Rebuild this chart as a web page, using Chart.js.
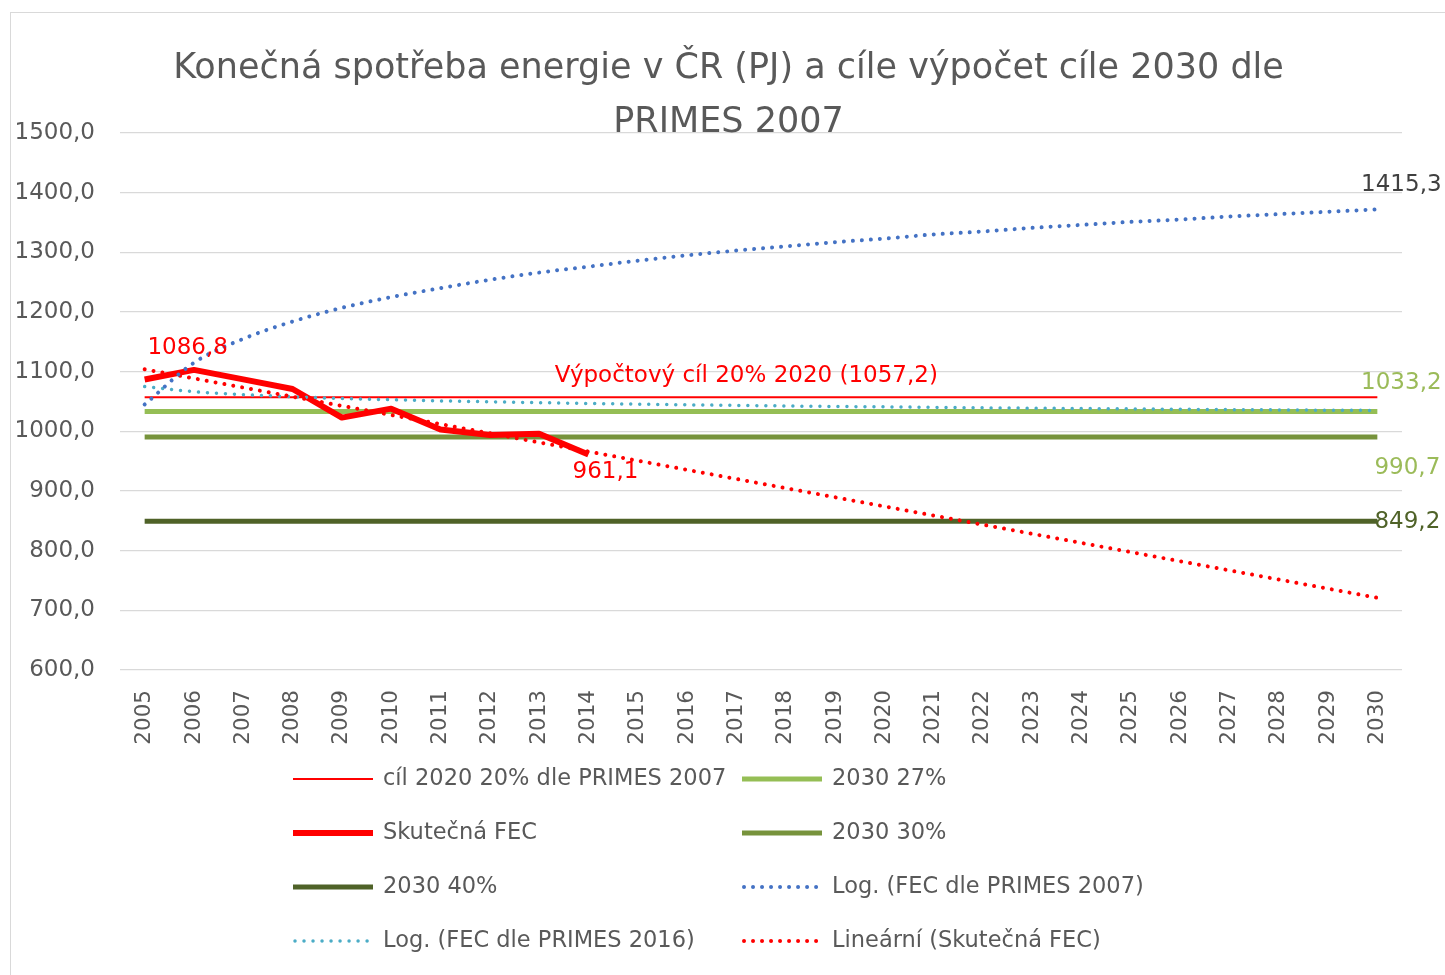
<!DOCTYPE html>
<html>
<head>
<meta charset="utf-8">
<script src="https://cdn.jsdelivr.net/npm/chart.js@4.4.1/dist/chart.umd.min.js"></script>
<style>
  html, body { margin: 0; padding: 0; background: #ffffff; }
  #wrap { position: absolute; left: 0; top: 0; width: 1445px; height: 975px; }
</style>
</head>
<body>
<div id="wrap"><canvas id="c" width="1445" height="975"></canvas></div>
<script>
// ---- data ----
const years = ['2005','2006','2007','2008','2009','2010','2011','2012','2013','2014','2015','2016','2017',
               '2018','2019','2020','2021','2022','2023','2024','2025','2026','2027','2028','2029','2030'];

const titleLines = ['Konečná spotřeba energie v ČR (PJ) a cíle výpočet cíle 2030 dle', 'PRIMES 2007'];

// actual final energy consumption (PJ), 2005–2014
const skutecnaFEC = [1086.8, 1103, 1087, 1071, 1023, 1038, 1003, 994, 996, 961.1,
                     null, null, null, null, null, null, null, null, null, null, null, null, null, null, null, null];

// horizontal target lines
const cil2020 = [1057.2, 1057.2, 1057.2, 1057.2, 1057.2, 1057.2, 1057.2, 1057.2, 1057.2, 1057.2, 1057.2, 1057.2, 1057.2,
                 1057.2, 1057.2, 1057.2, 1057.2, 1057.2, 1057.2, 1057.2, 1057.2, 1057.2, 1057.2, 1057.2, 1057.2, 1057.2];
const cil2030_27 = [1033.2, 1033.2, 1033.2, 1033.2, 1033.2, 1033.2, 1033.2, 1033.2, 1033.2, 1033.2, 1033.2, 1033.2, 1033.2,
                    1033.2, 1033.2, 1033.2, 1033.2, 1033.2, 1033.2, 1033.2, 1033.2, 1033.2, 1033.2, 1033.2, 1033.2, 1033.2];
const cil2030_30 = [990.7, 990.7, 990.7, 990.7, 990.7, 990.7, 990.7, 990.7, 990.7, 990.7, 990.7, 990.7, 990.7,
                    990.7, 990.7, 990.7, 990.7, 990.7, 990.7, 990.7, 990.7, 990.7, 990.7, 990.7, 990.7, 990.7];
const cil2030_40 = [849.2, 849.2, 849.2, 849.2, 849.2, 849.2, 849.2, 849.2, 849.2, 849.2, 849.2, 849.2, 849.2,
                    849.2, 849.2, 849.2, 849.2, 849.2, 849.2, 849.2, 849.2, 849.2, 849.2, 849.2, 849.2, 849.2];

// logarithmic trend of FEC according to PRIMES 2007
const logPrimes2007 = [1045, 1115, 1155, 1184, 1207, 1225, 1240, 1254, 1266, 1276, 1286, 1295, 1303,
                       1310, 1317, 1323, 1330, 1335, 1341, 1346, 1351, 1355, 1360, 1364, 1368, 1372];
// logarithmic trend of FEC according to PRIMES 2016 (light blue dotted curve)
const logPrimes2016 = [1075, 1066.5, 1061.5, 1058, 1055, 1053, 1051, 1049.5, 1048, 1046.7, 1045.5, 1044.4, 1043.5,
                       1042.5, 1041.7, 1041, 1040.2, 1039.4, 1038.8, 1038.2, 1037.6, 1037, 1036.4, 1035.9, 1035.4, 1035];
// linear trend of actual FEC (straight dotted line, end points)
const linearFEC = [1104, null, null, null, null, null, null, null, null, null, null, null, null,
                   null, null, null, null, null, null, null, null, null, null, null, null, 721];

// value label of the (not drawn) PRIMES 2007 projection in 2030
const primes2007In2030 = 1415.3;

// ---- styles ----
const GRAY = '#595959';
const FONT = 'DejaVu Sans';
const fmt = v => v.toFixed(1).replace('.', ',');

const dotted = { borderDash: [0.01, 9], borderCapStyle: 'round', borderWidth: 4 };

const datasets = [
  { label: 'cíl 2020 20% dle PRIMES 2007', data: cil2020, borderColor: '#FF0000', borderWidth: 2, order: 3 },
  { label: '2030 27%', data: cil2030_27, borderColor: '#95BE55', borderWidth: 5, order: 4 },
  { label: 'Skutečná FEC', data: skutecnaFEC, borderColor: '#FF0000', borderWidth: 6, order: 2, borderJoinStyle: 'round' },
  { label: '2030 30%', data: cil2030_30, borderColor: '#77933C', borderWidth: 5, order: 5 },
  { label: '2030 40%', data: cil2030_40, borderColor: '#4F6228', borderWidth: 5, order: 6 },
  Object.assign({ label: 'Log. (FEC dle PRIMES 2007)', data: logPrimes2007, borderColor: '#4472C4', order: 0, cubicInterpolationMode: 'monotone' }, dotted),
  Object.assign({ label: 'Log. (FEC dle PRIMES 2016)', data: logPrimes2016, borderColor: '#4BACC6', order: 1, cubicInterpolationMode: 'monotone' }, dotted, { borderWidth: 3.5 }),
  Object.assign({ label: 'Lineární (Skutečná FEC)', data: linearFEC, borderColor: '#FF0000', order: 0, spanGaps: true }, dotted)
];
datasets.forEach(d => { d.pointRadius = 0; d.pointHoverRadius = 0; d.fill = false; d.yAxisID = 'y'; if (d.tension === undefined) d.tension = 0; });

// ---- plugins ----
const framePlugin = {
  id: 'frame',
  beforeDraw(chart) {
    const ctx = chart.ctx;
    ctx.save();
    ctx.fillStyle = '#ffffff';
    ctx.fillRect(0, 0, chart.width, chart.height);
    ctx.strokeStyle = '#d9d9d9';
    ctx.lineWidth = 1;
    ctx.strokeRect(10.5, 12.5, chart.width, chart.height);
    ctx.restore();
  }
};

const valueLabels = [
  { index: 0, value: skutecnaFEC[0], color: '#FF0000', dx: 43, dy: -32 },
  { index: 9, value: skutecnaFEC[9], color: '#FF0000', dx: 17, dy: 17 },
  { index: 25, value: primes2007In2030, color: '#404040', dx: 24, dy: 1 },
  { index: 25, value: cil2030_27[25], color: '#9BBB59', dx: 24, dy: -28 },
  { index: 25, value: cil2030_30[25], color: '#9BBB59', dx: 30, dy: 31 },
  { index: 25, value: cil2030_40[25], color: '#4F6228', dx: 30, dy: 1 }
];
const targetNote = { text: 'Výpočtový cíl 20% 2020 (' + fmt(cil2020[0]) + ')', index: 12, value: cil2020[0], dx: 10, dy: -21 };

const labelsPlugin = {
  id: 'valueLabels',
  afterDatasetsDraw(chart) {
    const ctx = chart.ctx, xs = chart.scales.x, ys = chart.scales.y;
    ctx.save();
    ctx.font = '23px "' + FONT + '"';
    ctx.textAlign = 'center';
    ctx.textBaseline = 'middle';
    valueLabels.forEach(l => {
      const x = xs.getPixelForValue(l.index), y = ys.getPixelForValue(l.value);
      ctx.fillStyle = l.color;
      ctx.fillText(fmt(l.value), x + l.dx, y + l.dy);
    });
    ctx.fillStyle = '#FF0000';
    ctx.fillText(targetNote.text, xs.getPixelForValue(targetNote.index) + targetNote.dx, ys.getPixelForValue(targetNote.value) + targetNote.dy);
    ctx.restore();
  }
};

const legendGrid = { colX: [293, 742], rowY: [779, 833, 887, 941], sample: 80, gap: 10 };
const legendPlugin = {
  id: 'gridLegend',
  afterDraw(chart) {
    const ctx = chart.ctx;
    chart.data.datasets.forEach((ds, i) => {
      const x = legendGrid.colX[i % 2], y = legendGrid.rowY[Math.floor(i / 2)];
      ctx.save();
      ctx.strokeStyle = ds.borderColor;
      ctx.lineWidth = ds.borderWidth;
      ctx.setLineDash(ds.borderDash || []);
      ctx.lineCap = ds.borderCapStyle || 'butt';
      ctx.beginPath();
      ctx.moveTo(x + (ds.borderDash ? 2 : 0), y);
      ctx.lineTo(x + legendGrid.sample, y);
      ctx.stroke();
      ctx.setLineDash([]);
      ctx.fillStyle = GRAY;
      ctx.font = '22.5px "' + FONT + '"';
      ctx.textAlign = 'left';
      ctx.textBaseline = 'middle';
      ctx.fillText(ds.label, x + legendGrid.sample + legendGrid.gap, y);
      ctx.restore();
    });
  }
};

Chart.defaults.font.family = FONT;
Chart.defaults.color = GRAY;

new Chart(document.getElementById('c'), {
  type: 'line',
  data: { labels: years, datasets: datasets },
  options: {
    responsive: false,
    animation: false,
    events: [],
    layout: { padding: { left: 12, right: 0, top: 0, bottom: 225 } },
    plugins: {
      legend: { display: false },
      tooltip: { enabled: false },
      title: {
        display: true,
        text: titleLines,
        color: GRAY,
        font: { family: FONT, size: 35, weight: 'normal', lineHeight: 54 / 35 },
        padding: { top: 42, bottom: -17 }
      }
    },
    scales: {
      x: {
        offset: true,
        grid: { display: false, drawTicks: false },
        border: { display: false },
        ticks: { minRotation: 90, maxRotation: 90, padding: 20, color: GRAY, font: { family: FONT, size: 21.5 }, autoSkip: false },
        afterFit(scale) { scale.height = 80; }
      },
      y: {
        position: 'left',
        min: 600,
        max: 1500,
        grid: { color: '#d9d9d9', lineWidth: 1.3, drawTicks: false },
        border: { display: false },
        ticks: { stepSize: 100, padding: 25, color: GRAY, font: { family: FONT, size: 23 }, callback: v => fmt(v) },
        afterFit(scale) { scale.width = 108; }
      },
      yRightSpace: {
        position: 'right',
        min: 600,
        max: 1500,
        grid: { display: false, drawTicks: false },
        border: { display: false },
        ticks: { display: false },
        afterFit(scale) { scale.width = 43; }
      }
    }
  },
  plugins: [framePlugin, labelsPlugin, legendPlugin]
});
</script>
</body>
</html>
